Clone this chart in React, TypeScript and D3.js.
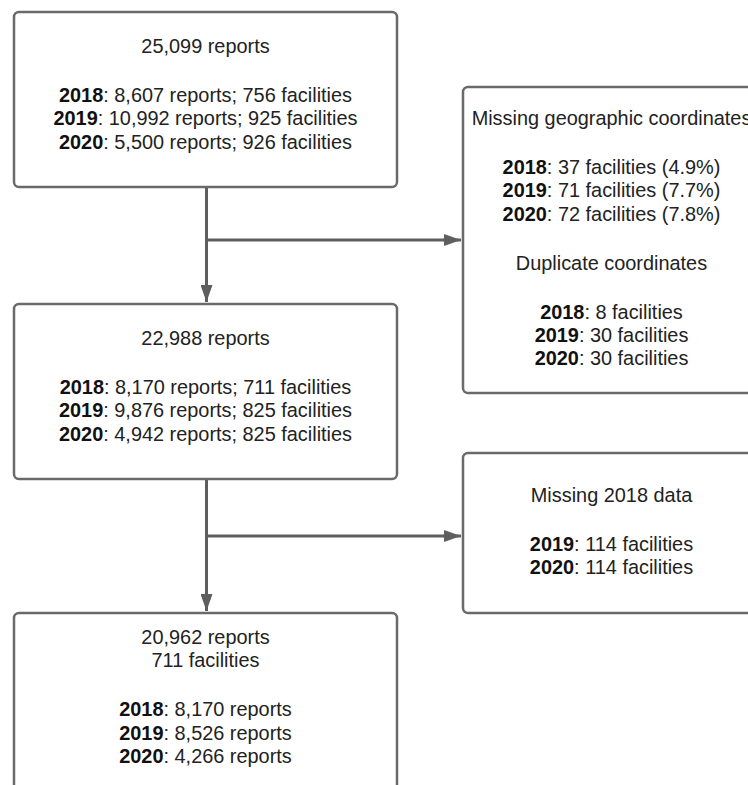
import React, { useEffect, useRef } from 'react';
import * as d3 from 'd3';

// Values
const years = ['2018', '2019', '2020'];

const allReportsTotal = 25099;
const allReports = [8607, 10992, 5500];
const allFacilities = [756, 925, 926];

const missingCoordFacilities = [37, 71, 72];
const missingCoordPct = [4.9, 7.7, 7.8];
const duplicateCoordFacilities = [8, 30, 30];

const geoReportsTotal = 22988;
const geoReports = [8170, 9876, 4942];
const geoFacilities = [711, 825, 825];

const missing2018Years = ['2019', '2020'];
const missing2018Facilities = [114, 114];

const finalReportsTotal = 20962;
const finalFacilitiesTotal = 711;
const finalReports = [8170, 8526, 4266];

type Seg = { text: string; bold?: boolean };
type Line = Seg[] | null; // null = blank line

interface Box {
  id: string;
  col: 'main' | 'side';
  top: number;
  height: number;
  firstBaseline: number;
  lines: Line[];
}

const fmt = d3.format(',');
const pct = d3.format('.1f');

const yearLine = (y: string, rest: string): Line => [{ text: y, bold: true }, { text: rest }];

const boxes: Box[] = [
  {
    id: 'all', col: 'main', top: 12, height: 175, firstBaseline: 41,
    lines: [
      [{ text: `${fmt(allReportsTotal)} reports` }],
      null,
      ...years.map((y, i) => yearLine(y, `: ${fmt(allReports[i])} reports; ${allFacilities[i]} facilities`)),
    ],
  },
  {
    id: 'excluded1', col: 'side', top: 87, height: 306, firstBaseline: 38,
    lines: [
      [{ text: 'Missing geographic coordinates' }],
      null,
      ...years.map((y, i) => yearLine(y, `: ${missingCoordFacilities[i]} facilities (${pct(missingCoordPct[i])}%)`)),
      null,
      [{ text: 'Duplicate coordinates' }],
      null,
      ...years.map((y, i) => yearLine(y, `: ${duplicateCoordFacilities[i]} facilities`)),
    ],
  },
  {
    id: 'geo', col: 'main', top: 304, height: 175, firstBaseline: 41,
    lines: [
      [{ text: `${fmt(geoReportsTotal)} reports` }],
      null,
      ...years.map((y, i) => yearLine(y, `: ${fmt(geoReports[i])} reports; ${geoFacilities[i]} facilities`)),
    ],
  },
  {
    id: 'excluded2', col: 'side', top: 453, height: 160, firstBaseline: 49,
    lines: [
      [{ text: 'Missing 2018 data' }],
      null,
      ...missing2018Years.map((y, i) => yearLine(y, `: ${missing2018Facilities[i]} facilities`)),
    ],
  },
  {
    id: 'final', col: 'main', top: 613, height: 200, firstBaseline: 31,
    lines: [
      [{ text: `${fmt(finalReportsTotal)} reports` }],
      [{ text: `${finalFacilitiesTotal} facilities` }],
      null,
      ...years.map((y, i) => yearLine(y, `: ${fmt(finalReports[i])} reports`)),
    ],
  },
];

// main -> next main, with a branch to the side box
const links = [
  { from: 'all', to: 'geo', side: 'excluded1', branchY: 240 },
  { from: 'geo', to: 'final', side: 'excluded2', branchY: 536 },
];

const App: React.FC = () => {
  const svgRef = useRef<SVGSVGElement>(null);

  useEffect(() => {
    if (!svgRef.current) return;
    const width = 748;
    const height = 785;

    const svg = d3.select(svgRef.current);
    svg.selectAll('*').remove();
    svg.attr('width', width).attr('height', height);

    const colX = d3.scaleOrdinal<string, number>().domain(['main', 'side']).range([14, 463]);
    const colW = d3.scaleOrdinal<string, number>().domain(['main', 'side']).range([383, 297]);

    const lineColor = '#5e5e5e';
    const lineH = 23.3;
    const blankH = 49;

    svg.append('defs')
      .append('marker')
      .attr('id', 'arrow')
      .attr('viewBox', '0 0 17 12')
      .attr('refX', 17)
      .attr('refY', 6)
      .attr('markerWidth', 17)
      .attr('markerHeight', 12)
      .attr('markerUnits', 'userSpaceOnUse')
      .attr('orient', 'auto')
      .append('path')
      .attr('d', 'M0,0 L17,6 L0,12 Z')
      .attr('fill', lineColor);

    const byId = new Map(boxes.map(b => [b.id, b]));

    // Connectors
    const lg = svg.append('g');
    links.forEach(l => {
      const a = byId.get(l.from)!;
      const b = byId.get(l.to)!;
      const s = byId.get(l.side)!;
      const cx = Math.round(colX(a.col) + colW(a.col) / 2) + 0.5;
      lg.append('line')
        .attr('x1', cx).attr('x2', cx)
        .attr('y1', a.top + a.height).attr('y2', b.top - 2)
        .attr('stroke', lineColor).attr('stroke-width', 3)
        .attr('marker-end', 'url(#arrow)');
      lg.append('line')
        .attr('x1', cx - 1.5).attr('x2', colX(s.col) - 2)
        .attr('y1', l.branchY).attr('y2', l.branchY)
        .attr('stroke', lineColor).attr('stroke-width', 3)
        .attr('marker-end', 'url(#arrow)');
    });

    // Boxes
    const bg = svg.selectAll('g.box')
      .data(boxes)
      .enter()
      .append('g')
      .attr('class', 'box');

    bg.append('rect')
      .attr('x', d => colX(d.col))
      .attr('y', d => d.top)
      .attr('width', d => colW(d.col))
      .attr('height', d => d.height)
      .attr('rx', 5)
      .attr('fill', '#ffffff')
      .attr('stroke', '#6a6a6a')
      .attr('stroke-width', 2.5);

    bg.each(function (d) {
      const g = d3.select(this);
      const cx = colX(d.col) + (d.col === 'main' ? colW(d.col) / 2 : 148.5);
      let y = d.top + d.firstBaseline;
      let prevBlank = false;
      d.lines.forEach((line, i) => {
        if (line === null) { prevBlank = true; return; }
        if (i > 0) y += prevBlank ? blankH : lineH;
        prevBlank = false;
        const t = g.append('text')
          .attr('x', cx)
          .attr('y', y)
          .attr('text-anchor', 'middle')
          .style('font-family', '"Liberation Sans", Arial, sans-serif')
          .style('font-size', '19.9px')
          .style('fill', '#222');
        line.forEach(seg => {
          t.append('tspan')
            .text(seg.text)
            .style('font-weight', seg.bold ? 'bold' : 'normal')
            .style('fill', seg.bold ? '#111' : '#222');
        });
      });
    });
  }, []);

  return (
    <svg ref={svgRef} style={{ position: 'absolute', left: 0, top: 0, background: '#fff' }} />
  );
};

export default App;
